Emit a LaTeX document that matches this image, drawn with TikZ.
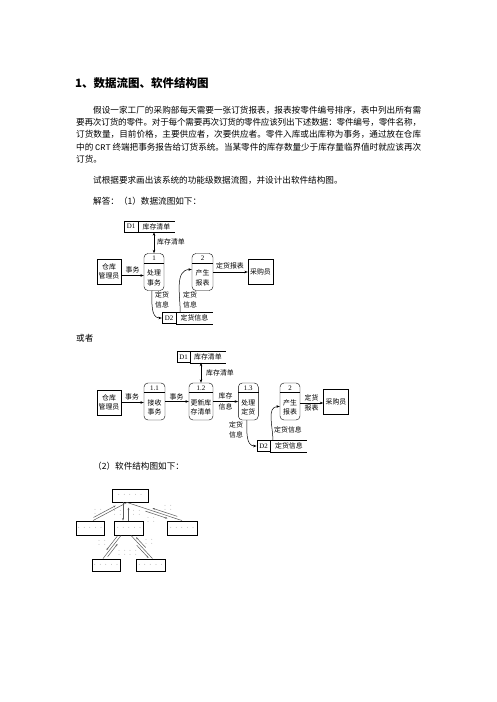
\documentclass[tikz,border=0pt]{standalone}
\usepackage{fontspec}
\setmainfont{Noto Sans CJK SC}
\newfontfamily\latin{Liberation Serif}
\newfontfamily\mono{Liberation Mono}
\usetikzlibrary{arrows.meta,calc,positioning}

\XeTeXlinebreaklocale "zh"
\XeTeXlinebreakskip=0pt plus 2pt minus 0.3pt

\newcommand\bodyfont{\fontsize{8.6}{10}\selectfont}
\newcommand\dfdfont{\fontsize{6.9}{9.6}\selectfont}
\newcommand\dotfont{\fontsize{4.5}{4}\selectfont}

\tikzset{
	txt/.style={anchor=west, inner sep=0pt, font=\bodyfont},
	ent/.style={draw, minimum width=24pt, minimum height=25pt, inner sep=0pt, align=center, font=\dfdfont},
	proc/.style={draw, rounded corners=4pt, minimum height=37pt, inner sep=0pt},
	pnum/.style={inner sep=0pt, font=\dfdfont\latin},
	lbl/.style={inner sep=0pt, align=center, font=\dfdfont},
	twin/.style={inner sep=0pt, align=center, font=\fontsize{6.9}{10.7}\selectfont},
	sid/.style={draw, minimum height=11pt, inner sep=0pt, font=\dfdfont\latin},
	sname/.style={minimum height=11pt, inner sep=0pt, font=\dfdfont},
	flow/.style={-{Stealth[length=3.5pt,width=2.6pt]}, line width=0.5pt},
	both/.style={{Stealth[length=3.5pt,width=2.6pt]}-{Stealth[length=3.5pt,width=2.6pt]}, line width=0.5pt},
	modbox/.style={draw, line width=0.9pt, minimum height=14pt, inner sep=0pt, font=\dotfont, text=black!50},
	link/.style={draw=black!65, line width=0.5pt},
	cpl/.style={-{Stealth[length=2.4pt,width=1.8pt]}, draw=black!65, line width=0.5pt},
	cpllbl/.style={inner sep=0pt, align=center, font=\dotfont, text=black!45},
}

\begin{document}
\begin{tikzpicture}[x=1pt, y=-1pt]
	\useasboundingbox (0,0) rectangle (496,702);
	
	\node[anchor=west, inner sep=0pt, font=\fontsize{11.5}{13}\selectfont\bfseries] (title) at (75,83) {1、数据流图、软件结构图};
	\node[txt] (l1) at (93,110) {\parbox{328pt}{\parfillskip=0pt 假设一家工厂的采购部每天需要一张订货报表，报表按零件编号排序，表中列出所有需}};
	\node[txt] (l2) at (76,122) {\parbox{345pt}{\parfillskip=0pt 要再次订货的零件。对于每个需要再次订货的零件应该列出下述数据：零件编号，零件名称，}};
	\node[txt] (l3) at (76,134.5) {\parbox{345pt}{\parfillskip=0pt 订货数量，目前价格，主要供应者，次要供应者。零件入库或出库称为事务，通过放在仓库}};
	\node[txt] (l4) at (76,147) {\parbox{345pt}{\parfillskip=0pt 中的 {\mono CRT} 终端把事务报告给订货系统。当某零件的库存数量少于库存量临界值时就应该再次}};
	\node[txt] (l5) at (76,159.5) {订货。};
	\node[txt] (ask) at (93,180.5) {试根据要求画出该系统的功能级数据流图，并设计出软件结构图。};
	\node[txt] (ans1) at (93,201) {解答：（1）数据流图如下：};
	\node[txt] (ans2) at (76,338) {或者};
	\node[txt] (ans3) at (93,466.5) {（2）软件结构图如下：};
	
	\node[sid, minimum width=14pt] (d1) at (131,226.5) {D1};
	\node[sname, minimum width=36pt, right=0pt of d1] (d1n) {库存清单};
	\draw (d1.north east) -- (d1n.north east) (d1.south east) -- (d1n.south east);
	\node[ent] (wm) at (109,271.5) {仓库\\管理员};
	\node[proc, minimum width=20pt] (p1) at (154,272) {};
	\draw ([yshift=-9.5pt]p1.north west) -- ([yshift=-9.5pt]p1.north east);
	\node[pnum] (p1a) at ([yshift=-5pt]p1.north) {1};
	\node[lbl] (p1b) at ([yshift=-6pt]p1.center) {处理\\事务};
	\node[proc, minimum width=21pt] (p2) at (202.5,272) {};
	\draw ([yshift=-9.5pt]p2.north west) -- ([yshift=-9.5pt]p2.north east);
	\node[pnum] (p2a) at ([yshift=-5pt]p2.north) {2};
	\node[lbl] (p2b) at ([yshift=-6pt]p2.center) {产生\\报表};
	\node[ent, minimum width=25pt] (buy) at (260.5,271.5) {采购员};
	\node[sid, minimum width=14pt] (d2) at (169,318) {D2};
	\node[sname, minimum width=36pt, right=0pt of d2] (d2n) {定货信息};
	\draw (d2.north east) -- (d2n.north east) (d2.south east) -- (d2n.south east);
	
	\draw[both] (p1.north) -- (p1.north |- d1n.south);
	\node[lbl] (f1) at (171,242) {库存清单};
	\draw[flow] ([yshift=-4pt]wm.east) -- ([yshift=-4pt]wm.east -| p1.west);
	\node[lbl] (f2) at (132.5,269.5) {事务};
	\draw[flow] (p2.east) -- (p2.east -| buy.west);
	\node[lbl] (f3) at (230,266) {定货报表};
	\draw[flow] ([xshift=-2pt]p1.south) to[out=-90, in=180] (d2.west);
	\node[lbl] (f4) at (162,300) {定货\\信息};
	\draw[flow] ([xshift=4pt]d2n.north west) to[out=90, in=180] ([yshift=2.5pt]p2.west);
	\node[lbl] (f5) at (190,300) {定货\\信息};
	
	\node[sid, minimum width=13pt] (e1) at (183.5,357) {D1};
	\node[sname, minimum width=35pt, right=0pt of e1] (e1n) {库存清单};
	\draw (e1.north east) -- (e1n.north east) (e1.south east) -- (e1n.south east);
	\node[ent] (wm2) at (109,402.5) {仓库\\管理员};
	\node[proc, minimum width=21pt] (q1) at (154.5,401.5) {};
	\draw ([yshift=-9.5pt]q1.north west) -- ([yshift=-9.5pt]q1.north east);
	\node[pnum] (q1a) at ([yshift=-5pt]q1.north) {1.1};
	\node[lbl] (q1b) at ([yshift=-6pt]q1.center) {接收\\事务};
	\node[proc, minimum width=24pt] (q2) at (201,401.5) {};
	\draw ([yshift=-9.5pt]q2.north west) -- ([yshift=-9.5pt]q2.north east);
	\node[pnum] (q2a) at ([yshift=-5pt]q2.north) {1.2};
	\node[lbl] (q2b) at ([yshift=-6pt]q2.center) {更新库\\存清单};
	\node[proc, minimum width=20pt] (q3) at (248.3,401.5) {};
	\draw ([yshift=-9.5pt]q3.north west) -- ([yshift=-9.5pt]q3.north east);
	\node[pnum] (q3a) at ([yshift=-5pt]q3.north) {1.3};
	\node[lbl] (q3b) at ([yshift=-6pt]q3.center) {处理\\定货};
	\node[proc, minimum width=20pt] (q4) at (290,401.5) {};
	\draw ([yshift=-9.5pt]q4.north west) -- ([yshift=-9.5pt]q4.north east);
	\node[pnum] (q4a) at ([yshift=-5pt]q4.north) {2};
	\node[lbl] (q4b) at ([yshift=-6pt]q4.center) {产生\\报表};
	\node[ent, minimum width=25pt] (buy2) at (336,401.5) {采购员};
	\node[sid, minimum width=13.5pt] (e2) at (263.5,446) {D2};
	\node[sname, minimum width=36.5pt, right=0pt of e2] (e2n) {定货信息};
	\draw (e2.north east) -- (e2n.north east) (e2.south east) -- (e2n.south east);
	
	\draw[both] (q2.north) -- (q2.north |- e1n.south);
	\node[lbl] (g1) at (220,373) {库存清单};
	\draw[flow] (wm2.east) -- (wm2.east -| q1.west);
	\node[lbl] (g2) at (132,396.5) {事务};
	\draw[flow] (q1) -- (q2);
	\node[lbl] (g3) at (176.5,396.5) {事务};
	\draw[flow] (q2) -- (q3);
	\node[twin] (g4) at (225.5,401.5) {库存\\信息};
	\draw[flow] ([yshift=-1.5pt]q4.east) -- ([yshift=-1.5pt]q4.east -| buy2.west);
	\node[twin] (g5) at (311.5,403) {定货\\报表};
	\draw[flow] ([xshift=-1.5pt]q3.south) to[out=-90, in=180] (e2.west);
	\node[lbl] (g6) at (236,430) {定货\\信息};
	\draw[flow] ([xshift=2.5pt]e2n.north west) to[out=90, in=180] ([yshift=-5pt]q4.west);
	\node[lbl] (g7) at (288,430) {定货信息};
	
	\node[modbox, minimum width=36pt, minimum height=13pt] (T) at (130,495.5) {· · · · ·};
	\node[modbox, minimum width=28pt] (L) at (90,528) {· · · · ·};
	\node[modbox, minimum width=29pt] (M) at (129,528) {· · · · ·};
	\node[modbox, minimum width=30pt] (R) at (182,528) {· · · · ·};
	\node[modbox, minimum width=28pt, minimum height=12pt] (BL) at (106,565) {· · · · ·};
	\node[modbox, minimum width=29pt, minimum height=12pt] (BR) at (150.5,565) {· · · · ·};
	
	\coordinate (t0) at ([xshift=-3pt]T.south);
	\coordinate (lt) at ([xshift=3pt]L.north);
	\coordinate (mt) at (M.north |- T.south);
	\coordinate (m1) at ([xshift=-8pt]M.south);
	\coordinate (m2) at ([xshift=2pt]M.south);
	\coordinate (bl) at ([xshift=-3pt]BL.north);
	\coordinate (br) at ([xshift=2pt]BR.north);
	
	\draw[link] (t0) -- (lt);
	\draw[link] (t0) -- (R.north);
	\draw[link] (m1) -- (bl);
	\draw[link] (m2) -- (br);
	\draw[cpl] ([xshift=-6pt]mt) -- ([xshift=-6pt]M.north);
	\draw[cpl] ([xshift=-0.5pt]M.north) -- ($(M.north)+(-0.5,-13)$);
	\draw[cpl] ($(t0)!0.95!(lt)!2.5pt!-90:(lt)$) -- ($(t0)!0.3!(lt)!2.5pt!-90:(lt)$);
	\draw[cpl] ($(t0)!0.9!(R.north)!2.5pt!90:(R.north)$) -- ($(t0)!0.45!(R.north)!2.5pt!90:(R.north)$);
	\draw[cpl] ($(t0)!0.35!(R.north)!2.5pt!-90:(R.north)$) -- ($(t0)!0.75!(R.north)!2.5pt!-90:(R.north)$);
	\draw[cpl] ($(m1)!0.1!(bl)!2.5pt!-90:(bl)$) -- ($(m1)!0.7!(bl)!2.5pt!-90:(bl)$);
	\draw[cpl] ($(m1)!0.85!(bl)!2.5pt!90:(bl)$) -- ($(m1)!0.3!(bl)!2.5pt!90:(bl)$);
	\draw[cpl] ($(m2)!0.6!(br)!2.5pt!90:(br)$) -- ($(m2)!0.15!(br)!2.5pt!90:(br)$);
	\draw[cpl] ($(m2)!0.35!(br)!2.5pt!-90:(br)$) -- ($(m2)!0.9!(br)!2.5pt!-90:(br)$);
	
	\node[cpllbl] (c1) at (98,512) {· ·\\· ·};
	\node[cpllbl] (c2) at (117.5,513) {· ·\\· ·};
	\node[cpllbl] (c3) at (136.5,513) {· ·\\· ·};
	\node[cpllbl] (c4) at (168,508) {· ·\\· ·};
	\node[cpllbl] (c5) at (151,520) {· ·\\· ·};
	\node[cpllbl] (c6) at (102,543) {· ·\\· ·};
	\node[cpllbl] (c7) at (122,553) {· ·\\· ·};
	\node[cpllbl] (c8) at (149,542) {· ·\\· ·};
	\node[cpllbl] (c9) at (133,553) {· ·\\· ·};
	
\end{tikzpicture}
\end{document}
